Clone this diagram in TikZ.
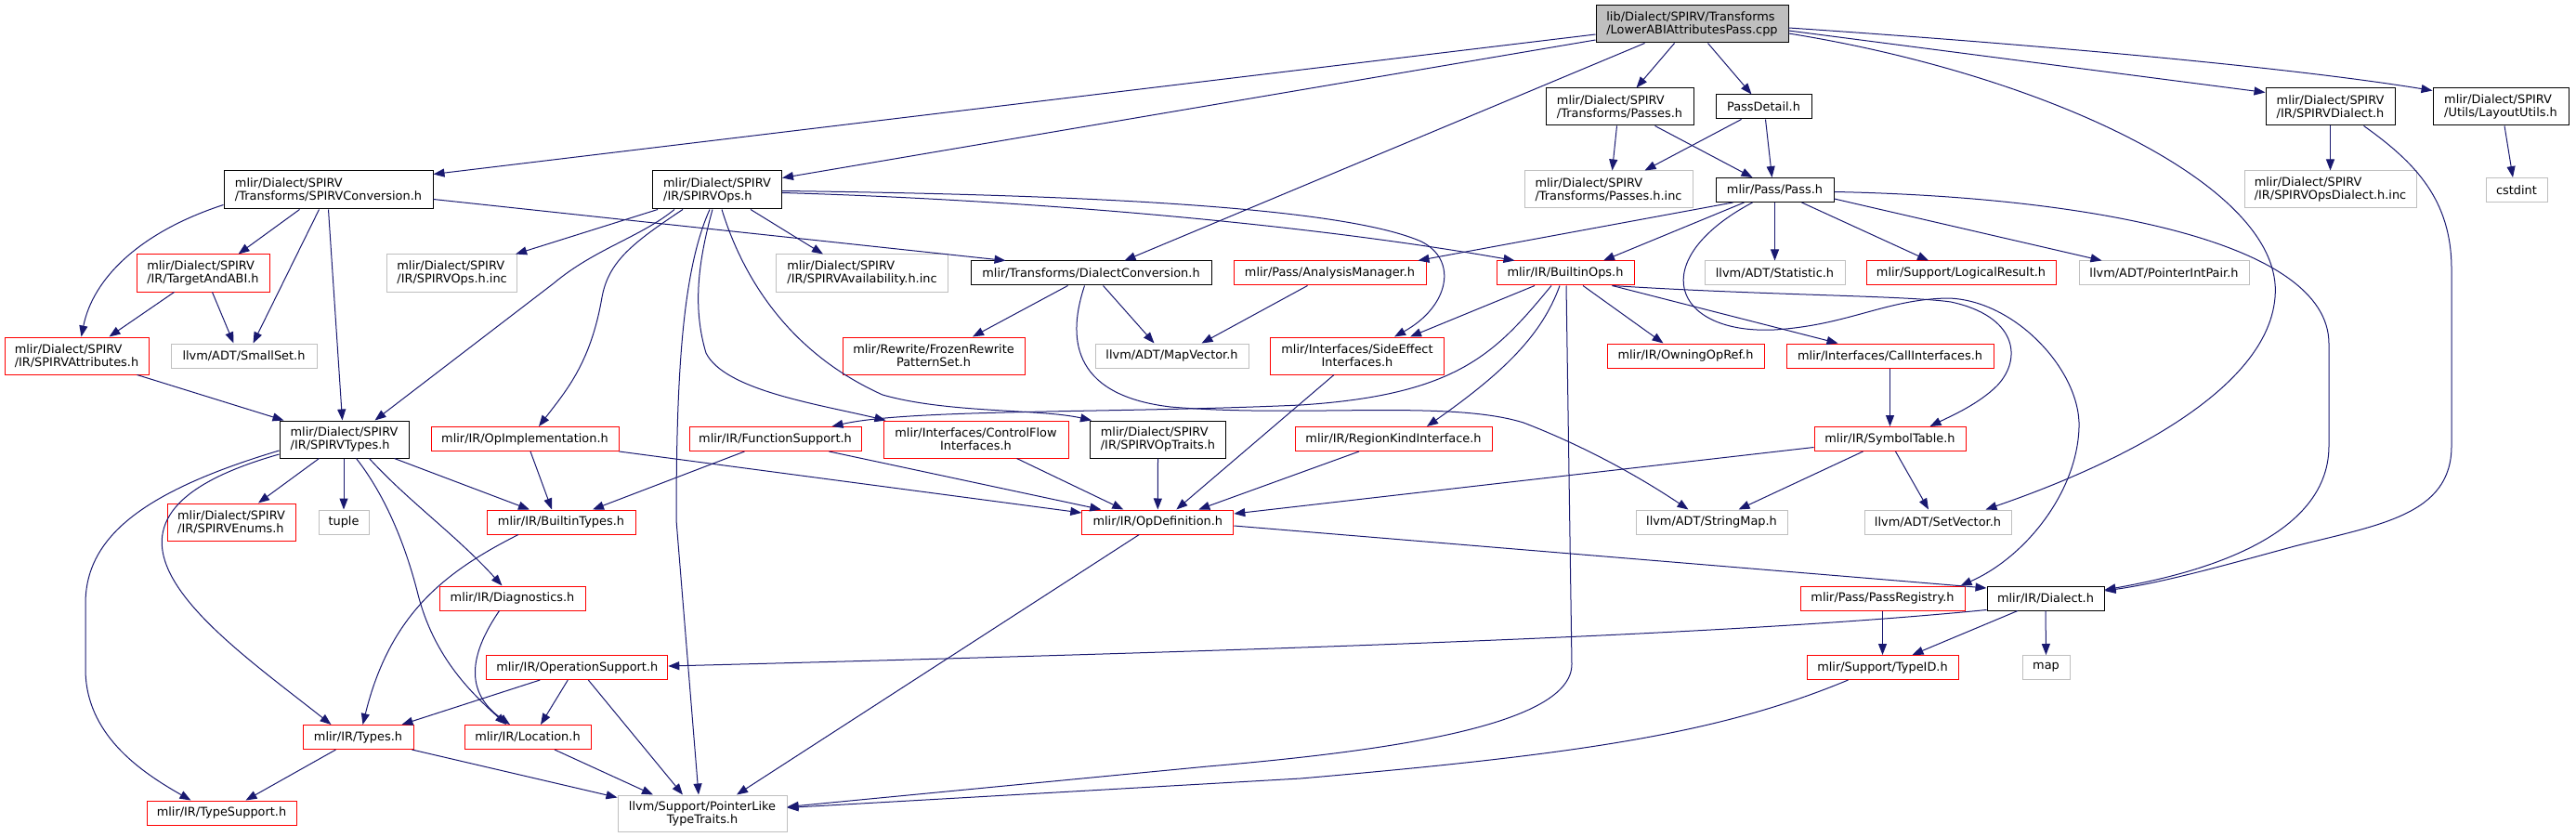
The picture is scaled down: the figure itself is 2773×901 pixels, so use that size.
\documentclass[tikz,border=0pt]{standalone}
\usepackage{fontspec}
\setmainfont{DejaVu Sans}
\usetikzlibrary{arrows.meta,calc}
\definecolor{edgec}{HTML}{191970}
\definecolor{lgray}{HTML}{BFBFBF}
\definecolor{bred}{HTML}{FF0000}
\newcommand{\nodefont}{\fontsize{12.9}{14}\selectfont}
\tikzset{
  sz/.style 2 args={minimum width=#1pt, minimum height=#2pt},
  nb/.style={draw=black, line width=1pt, fill=white, inner sep=0pt, font=\nodefont, align=left},
  nr/.style={nb, draw=bred},
  ng/.style={nb, draw=lgray},
  nroot/.style={nb, fill=lgray},
  e/.style={draw=edgec, line width=1pt, line join=round, -{Triangle[length=12pt,width=9pt]}}
}
\begin{document}
\begin{tikzpicture}[x=1pt,y=-1pt]
\useasboundingbox (0,0) rectangle (2773,901);
% nodes
\node[nroot,sz={207}{40}] (root) at (1821.5,26) {lib/Dialect/SPIRV/Transforms\\/LowerABIAttributesPass.cpp};
\node[nb,sz={225}{41}] (conv) at (353.5,204.5) {mlir/Dialect/SPIRV\\/Transforms/SPIRVConversion.h};
\node[nb,sz={139}{41}] (ops) at (772,204.5) {mlir/Dialect/SPIRV\\/IR/SPIRVOps.h};
\node[nb,sz={159}{40}] (passes) at (1743.5,115) {mlir/Dialect/SPIRV\\/Transforms/Passes.h};
\node[nb,sz={103}{26}] (detail) at (1898.5,115) {PassDetail.h};
\node[nb,sz={139}{40}] (dspirv) at (2508.5,115) {mlir/Dialect/SPIRV\\/IR/SPIRVDialect.h};
\node[nb,sz={146}{40}] (layout) at (2692,115) {mlir/Dialect/SPIRV\\/Utils/LayoutUtils.h};
\node[ng,sz={181}{40}] (passesinc) at (1731.5,204) {mlir/Dialect/SPIRV\\/Transforms/Passes.h.inc};
\node[nb,sz={127}{26}] (pass) at (1910.5,204.5) {mlir/Pass/Pass.h};
\node[ng,sz={185}{40}] (opsdinc) at (2508.5,204) {mlir/Dialect/SPIRV\\/IR/SPIRVOpsDialect.h.inc};
\node[ng,sz={66}{26}] (cstdint) at (2709,204.5) {cstdint};
\node[nr,sz={143}{40}] (target) at (218.5,294) {mlir/Dialect/SPIRV\\/IR/TargetAndABI.h};
\node[ng,sz={140}{40}] (opsinc) at (486.6,294) {mlir/Dialect/SPIRV\\/IR/SPIRVOps.h.inc};
\node[ng,sz={185}{40}] (avail) at (928,294) {mlir/Dialect/SPIRV\\/IR/SPIRVAvailability.h.inc};
\node[nb,sz={259}{26}] (dconv) at (1174.5,294) {mlir/Transforms/DialectConversion.h};
\node[nr,sz={207}{26}] (analysis) at (1431.5,294) {mlir/Pass/AnalysisManager.h};
\node[nr,sz={148}{26}] (bops) at (1685,294) {mlir/IR/BuiltinOps.h};
\node[ng,sz={151}{26}] (stat) at (1910.5,294) {llvm/ADT/Statistic.h};
\node[nr,sz={204}{26}] (logical) at (2111,294) {mlir/Support/LogicalResult.h};
\node[ng,sz={183}{26}] (pip) at (2329.5,294) {llvm/ADT/PointerIntPair.h};
\node[nr,sz={155}{40}] (attrs) at (82.5,383) {mlir/Dialect/SPIRV\\/IR/SPIRVAttributes.h};
\node[ng,sz={157}{26}] (smallset) at (262.5,383) {llvm/ADT/SmallSet.h};
\node[nr,sz={196}{40},align=center] (frozen) at (1005,383) {mlir/Rewrite/FrozenRewrite\\PatternSet.h};
\node[ng,sz={165}{26}] (mapvec) at (1261.5,383) {llvm/ADT/MapVector.h};
\node[nr,sz={187}{40},align=center] (sidefx) at (1461,383) {mlir/Interfaces/SideEffect\\Interfaces.h};
\node[nr,sz={169}{26}] (owning) at (1814.5,383) {mlir/IR/OwningOpRef.h};
\node[nr,sz={223}{26}] (callif) at (2034.5,383) {mlir/Interfaces/CallInterfaces.h};
\node[nb,sz={139}{40}] (stypes) at (370.5,473) {mlir/Dialect/SPIRV\\/IR/SPIRVTypes.h};
\node[nr,sz={202}{26}] (opimpl) at (565,472.5) {mlir/IR/OpImplementation.h};
\node[nr,sz={185}{26}] (funcsup) at (834.5,472.5) {mlir/IR/FunctionSupport.h};
\node[nr,sz={199}{40},align=center] (ctrlflow) at (1050.5,473) {mlir/Interfaces/ControlFlow\\Interfaces.h};
\node[nb,sz={146}{40}] (optraits) at (1246.5,473) {mlir/Dialect/SPIRV\\/IR/SPIRVOpTraits.h};
\node[nr,sz={212}{26}] (regionkind) at (1500,472.5) {mlir/IR/RegionKindInterface.h};
\node[nr,sz={163}{26}] (symtab) at (2034.5,472.5) {mlir/IR/SymbolTable.h};
\node[nr,sz={138}{40}] (enums) at (249,562) {mlir/Dialect/SPIRV\\/IR/SPIRVEnums.h};
\node[ng,sz={54}{26}] (tuple) at (370,562) {tuple};
\node[nr,sz={160}{26}] (btypes) at (604,562) {mlir/IR/BuiltinTypes.h};
\node[nr,sz={163}{26}] (opdef) at (1246.3,562) {mlir/IR/OpDefinition.h};
\node[ng,sz={163}{26}] (strmap) at (1842.5,562) {llvm/ADT/StringMap.h};
\node[ng,sz={158}{26}] (setvec) at (2086,562) {llvm/ADT/SetVector.h};
\node[nr,sz={157}{26}] (diag) at (551.5,644) {mlir/IR/Diagnostics.h};
\node[nr,sz={177}{26}] (passreg) at (2026.5,644) {mlir/Pass/PassRegistry.h};
\node[nb,sz={126}{26}] (dialect) at (2202,644) {mlir/IR/Dialect.h};
\node[nr,sz={195}{26}] (opsup) at (621.3,718.5) {mlir/IR/OperationSupport.h};
\node[nr,sz={163}{26}] (typeid) at (2026.5,718.5) {mlir/Support/TypeID.h};
\node[ng,sz={51}{26}] (map) at (2202.5,718.5) {map};
\node[nr,sz={119}{26}] (irtypes) at (385.5,793.5) {mlir/IR/Types.h};
\node[nr,sz={136}{26}] (loc) at (568,793.5) {mlir/IR/Location.h};
\node[nr,sz={161}{26}] (typesup) at (238.5,875) {mlir/IR/TypeSupport.h};
\node[ng,sz={182}{39},align=center] (ptrlike) at (756,875.5) {llvm/Support/PointerLike\\TypeTraits.h};
% edges: root
\draw[e] ($(root.west)+(0,11)$) -- ($(conv.north east)+(0,4)$);
\draw[e] ($(root.west)+(0,17)$) -- ($(ops.north east)+(0,8)$);
\draw[e] ($(root.south)+(-51,0)$) -- ($(dconv.north)+(36,0)$);
\draw[e] ($(root.south)+(-19,0)$) -- ($(passes.north)+(18,0)$);
\draw[e] ($(root.south)+(17,0)$) -- ($(detail.north)+(-13,0)$);
\draw[e] ($(root.east)+(0,7)$) -- ($(dspirv.north west)+(0,5)$);
\draw[e] ($(root.east)+(0,4)$) .. controls (2150,45) and (2450,70) .. ($(layout.north west)+(0,3)$);
\draw[e] ($(root.east)+(0,10)$) .. controls (2200,80) and (2460,200) .. (2449,320) .. controls (2440,430) and (2250,510) .. ($(setvec.north east)+(-28,0)$);
% passes / detail
\draw[e] ($(passes.south)+(-3,0)$) -- ($(passesinc.north)+(4,0)$);
\draw[e] ($(passes.south)+(38,0)$) -- ($(pass.north)+(-24,0)$);
\draw[e] ($(detail.south)+(-24,0)$) -- ($(passesinc.north)+(39,0)$);
\draw[e] ($(detail.south)+(2,0)$) -- ($(pass.north)+(-3,0)$);
% SPIRVDialect
\draw[e] (dspirv.south) -- (opsdinc.north);
\draw[e] ($(dspirv.south)+(36,0)$) .. controls (2600,175) and (2639,215) .. (2639,290) -- (2639,480) .. controls (2639,555) and (2560,565) .. (2470,588) .. controls (2400,607) and (2330,627) .. ($(dialect.east)+(0,-8)$);
% layout
\draw[e] ($(layout.south)+(4,0)$) -- ($(cstdint.north)+(-4,0)$);
% pass
\draw[e] ($(pass.south)+(-45,0)$) -- ($(analysis.north)+(95,0)$);
\draw[e] ($(pass.south)+(-33,0)$) -- ($(bops.north)+(41,0)$);
\draw[e] (pass.south) -- (stat.north);
\draw[e] ($(pass.south)+(29,0)$) -- ($(logical.north)+(-35,0)$);
\draw[e] ($(pass.south east)+(0,-4)$) -- ($(pip.north)+(-67,0)$);
\draw[e] ($(pass.east)+(0,2)$) .. controls (2250,212) and (2507,260) .. (2507,370) -- (2507,480) .. controls (2507,585) and (2350,620) .. ($(dialect.east)+(0,-9)$);
\draw[e] ($(pass.south)+(-24,0)$) .. controls (1770,280) and (1800,360) .. (1910,355) .. controls (1990,350) and (2030,322) .. (2097,321) .. controls (2170,323) and (2240,400) .. (2238,460) .. controls (2236,530) and (2180,600) .. ($(passreg.north east)+(-5,0)$);
% builtin ops
\draw[e] ($(bops.south)+(-33,0)$) -- ($(sidefx.north)+(57,0)$);
\draw[e] ($(bops.south)+(-15,0)$) .. controls (1610,380) and (1570,425) .. (1400,436) .. controls (1200,445) and (980,440) .. ($(funcsup.north east)+(-32,0)$);
\draw[e] ($(bops.south)+(-6,0)$) .. controls (1660,360) and (1620,400) .. ($(regionkind.north)+(36,0)$);
\draw[e] ($(bops.south)+(1,0)$) -- (1692,715) .. controls (1692,780) and (1500,808) .. (1300,825) -- ($(ptrlike.east)+(0,-7)$);
\draw[e] ($(bops.south)+(19,0)$) -- ($(owning.north)+(-24,0)$);
\draw[e] ($(bops.south east)+(-24,0)$) -- ($(callif.north west)+(56,0)$);
\draw[e] ($(bops.south east)+(-24,0)$) .. controls (1900,318) and (2050,318) .. (2100,325) .. controls (2170,340) and (2178,385) .. (2150,415) .. controls (2130,435) and (2100,448) .. ($(symtab.north east)+(-39,0)$);
% call interfaces, symbol table
\draw[e] (callif.south) -- (symtab.north);
\draw[e] ($(symtab.south)+(-29,0)$) -- ($(strmap.north)+(29,0)$);
\draw[e] ($(symtab.south)+(6,0)$) -- ($(setvec.north)+(-10,0)$);
\draw[e] ($(symtab.west)+(0,9)$) -- ($(opdef.east)+(0,-9)$);
% into OpDefinition
\draw[e] ($(sidefx.south)+(-25,0)$) -- ($(opdef.north)+(20,0)$);
\draw[e] ($(regionkind.south)+(-37,0)$) -- ($(opdef.north)+(44,0)$);
\draw[e] (optraits.south) -- (opdef.north);
\draw[e] ($(ctrlflow.south)+(44,0)$) -- ($(opdef.north)+(-37,0)$);
\draw[e] ($(funcsup.south)+(58,0)$) -- ($(opdef.north)+(-61,0)$);
\draw[e] ($(funcsup.south)+(-33,0)$) -- ($(btypes.north)+(34,0)$);
\draw[e] ($(opimpl.south)+(6,0)$) -- ($(btypes.north)+(-10,0)$);
\draw[e] (opimpl.south east) -- ($(opdef.west)+(0,-10)$);
% OpDefinition
\draw[e] ($(opdef.east)+(0,4)$) -- ($(dialect.west)+(0,-11)$);
\draw[e] ($(opdef.south)+(-20,0)$) -- ($(ptrlike.north)+(37,0)$);
% Dialect
\draw[e] (dialect.south) -- (map.north);
\draw[e] ($(dialect.south)+(-30,0)$) -- ($(typeid.north)+(32,0)$);
\draw[e] ($(dialect.south west)+(0,-1)$) .. controls (1900,680) and (1500,697) .. ($(opsup.east)+(0,-1.5)$);
\draw[e] (passreg.south) -- (typeid.north);
\draw[e] ($(typeid.south)+(-37,0)$) .. controls (1850,790) and (1700,812) .. (1400,838) -- ($(ptrlike.east)+(0,-6)$);
% OperationSupport, Location, Types
\draw[e] ($(opsup.south)+(-40,0)$) -- ($(irtypes.north east)+(-13,0)$);
\draw[e] ($(opsup.south)+(-10,0)$) -- ($(loc.north)+(14,0)$);
\draw[e] ($(opsup.south)+(12,0)$) -- ($(ptrlike.north)+(-21,0)$);
\draw[e] ($(loc.south)+(29,0)$) -- ($(ptrlike.north)+(-53,0)$);
\draw[e] ($(irtypes.south east)+(-2,0)$) -- ($(ptrlike.north west)+(0,3)$);
\draw[e] ($(irtypes.south)+(-24,0)$) -- ($(typesup.north)+(26,0)$);
\draw[e] ($(diag.south)+(-14,0)$) .. controls (505,705) and (500,745) .. ($(loc.north)+(-19,0)$);
\draw[e] ($(btypes.south)+(-46,0)$) .. controls (480,615) and (420,660) .. ($(irtypes.north)+(5,0)$);
% SPIRVTypes
\draw[e] ($(stypes.west)+(0,12)$) .. controls (150,530) and (92,580) .. (92,650) -- (92,720) .. controls (92,790) and (150,830) .. ($(typesup.north)+(-33,0)$);
\draw[e] ($(stypes.west)+(0,16)$) .. controls (50,560) and (230,680) .. ($(irtypes.north west)+(31,0)$);
\draw[e] ($(stypes.south)+(-27,0)$) -- ($(enums.north)+(29,0)$);
\draw[e] ($(stypes.south)+(-0.5,0)$) -- (tuple.north);
\draw[e] ($(stypes.south)+(13,0)$) .. controls (420,540) and (440,600) .. (450,640) .. controls (468,710) and (510,748) .. ($(loc.north)+(-23,0)$);
\draw[e] ($(stypes.south)+(27,0)$) .. controls (440,540) and (490,575) .. ($(diag.north)+(-11,0)$);
\draw[e] ($(stypes.south east)+(-16,0)$) -- ($(btypes.north)+(-34,0)$);
% attributes, target
\draw[e] ($(attrs.south)+(65,0)$) -- ($(stypes.north west)+(5,0)$);
\draw[e] ($(target.south)+(-31,0)$) -- ($(attrs.north)+(35,0)$);
\draw[e] ($(target.south)+(10,0)$) -- ($(smallset.north)+(-11,0)$);
% SPIRVConversion
\draw[e] ($(conv.west)+(0,16)$) .. controls (150,250) and (100,300) .. ($(attrs.north)+(5,0)$);
\draw[e] ($(conv.south)+(-31,0)$) -- ($(target.north)+(38,0)$);
\draw[e] ($(conv.south)+(-10,0)$) -- ($(smallset.north)+(10,0)$);
\draw[e] (conv.south) -- ($(stypes.north)+(-2,0)$);
\draw[e] ($(conv.east)+(0,10)$) -- ($(dconv.north west)+(38,0)$);
% SPIRVOps
\draw[e] ($(ops.south west)+(6,0)$) -- ($(opsinc.north east)+(-2,0)$);
\draw[e] ($(ops.south)+(-46,0)$) .. controls (690,255) and (640,268) .. (596,305) -- ($(stypes.north east)+(-37,0)$);
\draw[e] ($(ops.south)+(-37,0)$) .. controls (680,262) and (655,282) .. (648,320) .. controls (636,390) and (610,420) .. ($(opimpl.north)+(15,0)$);
\draw[e] ($(ops.south)+(-8,0)$) .. controls (735,290) and (728,400) .. (728,560) -- ($(ptrlike.north)+(-4,0)$);
\draw[e] ($(ops.south)+(-5,0)$) .. controls (752,280) and (745,330) .. (760,380) .. controls (780,420) and (880,435) .. ($(ctrlflow.north west)+(3,0)$);
\draw[e] ($(ops.south)+(5,0)$) .. controls (800,300) and (850,380) .. (950,425) .. controls (1020,445) and (1120,440) .. ($(optraits.north west)+(2,0)$);
\draw[e] ($(ops.south)+(36,0)$) -- ($(avail.north)+(-42,0)$);
\draw[e] ($(ops.east)+(0,3)$) .. controls (1100,215) and (1400,240) .. ($(bops.north west)+(20,0)$);
\draw[e] ($(ops.east)+(0,1)$) .. controls (1200,210) and (1450,225) .. (1530,260) .. controls (1570,280) and (1560,330) .. ($(sidefx.north)+(40,0)$);
% AnalysisManager, DialectConversion
\draw[e] ($(analysis.south)+(-24,0)$) -- ($(mapvec.north)+(32,0)$);
\draw[e] ($(dconv.south)+(-25,0)$) -- ($(frozen.north)+(42,0)$);
\draw[e] ($(dconv.south)+(13,0)$) -- ($(mapvec.north)+(-19,0)$);
\draw[e] ($(dconv.south)+(-7,0)$) .. controls (1150,360) and (1150,425) .. (1260,438) .. controls (1400,450) and (1560,430) .. (1640,455) .. controls (1700,478) and (1760,510) .. ($(strmap.north)+(-25,0)$);
\end{tikzpicture}
\end{document}
